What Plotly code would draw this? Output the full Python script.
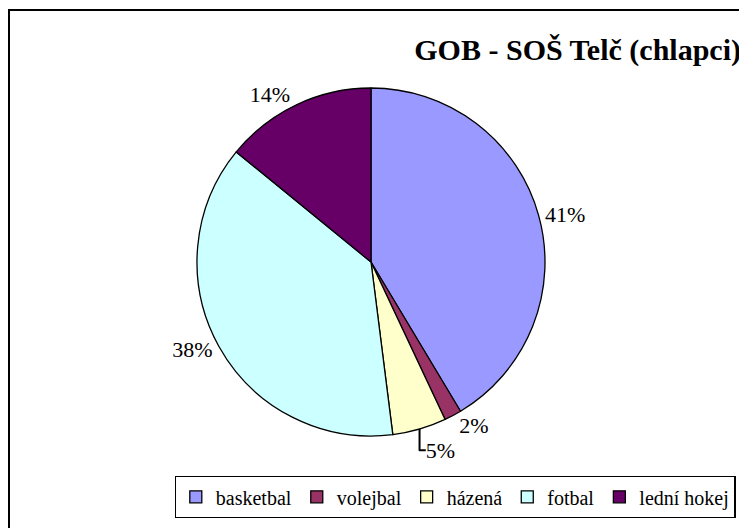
import plotly.graph_objects as go

categories = ["basketbal", "volejbal", "házená", "fotbal", "lední hokej"]
values = [41.4, 1.6, 5.0, 37.9, 14.1]
colors = ["#9999FF", "#993366", "#FFFFCC", "#CCFFFF", "#660066"]
title_text = "GOB - SOŠ Telč (chlapci)"

# page is offset by the default 8px body margin
OFF = 8
W, H = 747 - OFF, 528 - OFF
cx, cy, r = 371 - OFF, 262 - OFF, 174

SERIF = "Liberation Serif, Times New Roman, DejaVu Serif, serif"

fig = go.Figure(go.Pie(
    labels=categories,
    values=values,
    sort=False,
    direction="clockwise",
    rotation=0,
    marker=dict(colors=colors, line=dict(color="black", width=1.3)),
    textposition="outside",
    texttemplate="%{percent:.0%}",
    textfont=dict(family=SERIF, size=22, color="black"),
    domain=dict(x=[(cx - r) / W, (cx + r) / W],
                y=[1 - (cy + r) / H, 1 - (cy - r) / H]),
    hoverinfo="label+percent",
))

fig.update_layout(
    width=W, height=H,
    margin=dict(l=0, r=0, t=0, b=0),
    paper_bgcolor="white",
    plot_bgcolor="white",
    font=dict(family=SERIF, size=20, color="black"),
    title=dict(text="<b>" + title_text + "</b>", x=(741 - OFF) / W, xanchor="right",
               y=1 - (49 - OFF) / H, yanchor="middle", xref="paper", yref="paper",
               font=dict(family=SERIF, size=30, color="black")),
    showlegend=True,
    legend=dict(orientation="h", x=(455 - OFF) / W, xanchor="center",
                y=1 - (518 - OFF) / H, yanchor="bottom",
                bordercolor="black", borderwidth=1.3, bgcolor="white",
                font=dict(family=SERIF, size=20, color="black"),
                itemwidth=30, tracegroupgap=0),
    shapes=[dict(type="rect", xref="paper", yref="paper",
                 x0=1 / W, x1=1.02, y0=-0.02, y1=1 - 2 / H,
                 line=dict(color="black", width=2), fillcolor="rgba(0,0,0,0)", layer="below")],
)

fig.write_html("out.html")
